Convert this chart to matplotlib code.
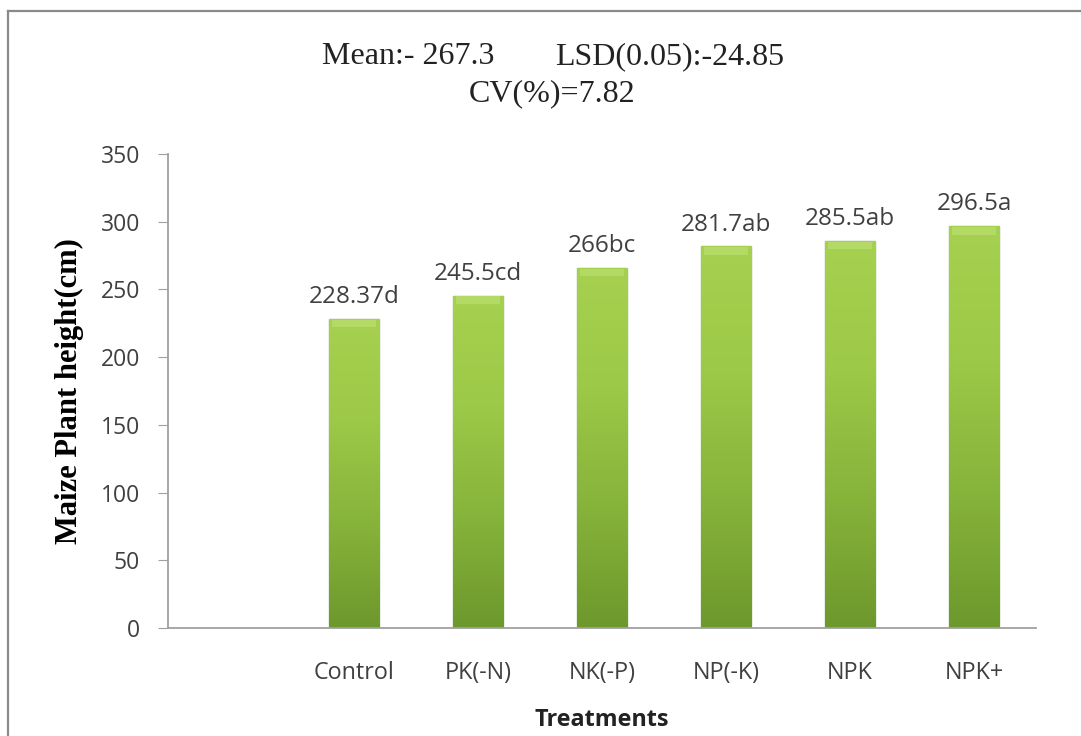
"""Maize plant height by fertiliser treatment (bar chart with LSD letters)."""
import numpy as np
import matplotlib
matplotlib.use("Agg")
import matplotlib.pyplot as plt
from matplotlib.lines import Line2D

# first category is left blank in the original sheet
treatments = ["", "Control", "PK(-N)", "NK(-P)", "NP(-K)", "NPK", "NPK+"]
height_cm = [np.nan, 228.37, 245.5, 266, 281.7, 285.5, 296.5]
value_text = ["", "228.37", "245.5", "266", "281.7", "285.5", "296.5"]
letters = ["", "d", "cd", "bc", "ab", "ab", "a"]
y_ticks = [0, 50, 100, 150, 200, 250, 300, 350]

W, H = 1081, 736
fig = plt.figure(figsize=(W / 100, H / 100), dpi=100)
fig.patch.set_facecolor("white")

# chart-area frame (cut off at right and bottom in the source image)
fig.add_artist(Line2D([8 / W, 8 / W], [0, 1 - 11 / H], transform=fig.transFigure,
                      color="#8a8a8a", lw=1.6))
fig.add_artist(Line2D([8 / W, 1], [1 - 11 / H, 1 - 11 / H], transform=fig.transFigure,
                      color="#8a8a8a", lw=1.6))

x0, x1, ytop, ybot = 168, 1036, 154, 628
ax = fig.add_axes([x0 / W, 1 - ybot / H, (x1 - x0) / W, (ybot - ytop) / H])

x = np.arange(len(treatments))
bars = ax.bar(x, height_cm, width=0.41, color="#8db83f", edgecolor="#5a8424", lw=0.9, zorder=2)

# vertical gradient + a light bevel strip at the top of each bar
grad = np.linspace(0, 1, 256).reshape(-1, 1)
cmap = matplotlib.colors.LinearSegmentedColormap.from_list(
    "g", ["#6d982d", "#86b33a", "#9cc947", "#a6d150"])
for b in bars:
    if not np.isfinite(b.get_height()):
        continue
    bx, bw, bh = b.get_x(), b.get_width(), b.get_height()
    im = ax.imshow(grad, cmap=cmap, aspect="auto", origin="lower", zorder=2.5,
                   extent=[bx, bx + bw, 0, bh])
    im.set_clip_path(b)
    ax.fill_between([bx + bw * 0.06, bx + bw * 0.94], bh - 6, bh - 0.6,
                    color="#b4da66", lw=0, zorder=2.6)

for xi, v, t, l in zip(x, height_cm, value_text, letters):
    if not t:
        continue
    ax.text(xi, v + 11.8, t + l, ha="center", va="baseline", fontsize=17.5,
            color="#404040", family="Open Sans")

ax.set_xlim(-0.5, len(treatments) - 0.5)
ax.set_ylim(0, 350)
ax.set_yticks(y_ticks)
ax.set_xticks(x)
ax.set_xticklabels(treatments, family="Open Sans", fontsize=16.8, color="#404040")
ax.tick_params(axis="x", length=0, pad=24)
ax.tick_params(axis="y", length=7, color="#a0a0a0", direction="out", pad=13,
               labelsize=16.5, labelcolor="#404040")
for lab in ax.get_yticklabels():
    lab.set_family("Open Sans")
for s in ["top", "right"]:
    ax.spines[s].set_visible(False)
for s in ["left", "bottom"]:
    ax.spines[s].set_color("#a0a0a0")
    ax.spines[s].set_linewidth(1.3)

ax.set_ylabel("Maize Plant height(cm)", family="Liberation Serif", fontweight="bold",
              fontsize=22, color="black", labelpad=12)
fig.text(602 / W, 1 - 720 / H, "Treatments", ha="center", va="center",
         family="Open Sans", fontweight="bold", fontsize=16.8, color="#222222")

title_kw = dict(va="baseline", family="Liberation Serif", fontsize=23, color="#222222")
fig.text(322 / W, 1 - 64 / H, "Mean:- 267.3", ha="left", **title_kw)
fig.text(784 / W, 1 - 64 / H, "LSD(0.05):-24.85", ha="right", **title_kw)
fig.text(552 / W, 1 - 101 / H, "CV(%)=7.82", ha="center", **title_kw)

fig.savefig("out.png", dpi=100)
